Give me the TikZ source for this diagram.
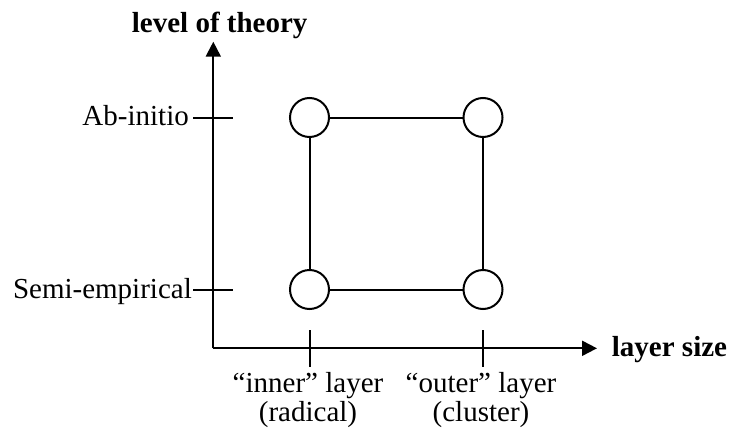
\documentclass[tikz,border=0pt]{standalone}
\usepackage{fontspec}
\setmainfont{Liberation Serif}
\usetikzlibrary{arrows.meta}
\begin{document}
\begin{tikzpicture}[x=1pt,y=-1pt,
  lw/.style={line width=2pt},
  dot/.style={circle,draw,line width=2pt,minimum size=39pt,inner sep=0pt},
  lbl/.style={inner sep=0pt,font=\fontsize{29}{34}\selectfont},
  blbl/.style={inner sep=0pt,font=\fontsize{29}{34}\selectfont\bfseries},
  axis/.style={line width=2pt,-{Triangle[length=15pt,width=15pt]}}]
\useasboundingbox (0,0) rectangle (730,428);
% axes
\coordinate (O) at (213.3,348.3);
\coordinate (Ytop) at (213.3,41.7);
\coordinate (Xend) at (597,348.3);
\draw[axis] (O) -- (Ytop);
\draw[axis] (O) -- (Xend);
% axis titles
\node[blbl,anchor=base west] (ylab) at (131.7,33) {level of theory};
\node[blbl,anchor=base west] (xlab) at (611.7,356) {layer size};
% y ticks and labels
\node[lbl,anchor=base east] (ab) at (189,125.5) {Ab-initio};
\node[lbl,anchor=base east] (se) at (192,298) {Semi-empirical};
\coordinate (t1a) at (193,117.5); \coordinate (t1b) at (233,117.5);
\coordinate (t2a) at (193,289.5); \coordinate (t2b) at (233,289.5);
\draw[lw] (t1a) -- (t1b);
\draw[lw] (t2a) -- (t2b);
% x ticks and labels
\coordinate (x1a) at (310,330); \coordinate (x1b) at (310,367);
\coordinate (x2a) at (483,330); \coordinate (x2b) at (483,367);
\draw[lw] (x1a) -- (x1b);
\draw[lw] (x2a) -- (x2b);
\node[lbl,anchor=base] (in1) at (308,392.5) {“inner” layer};
\node[lbl,anchor=base] (in2) at (308,421) {(radical)};
\node[lbl,anchor=base] (out1) at (481,392.5) {“outer” layer};
\node[lbl,anchor=base] (out2) at (481,421) {(cluster)};
% circles
\node[dot] (a) at (309.5,117.5) {};
\node[dot] (b) at (483,117.5) {};
\node[dot] (c) at (309.5,289.5) {};
\node[dot] (d) at (483,289.5) {};
\draw[lw] (a) -- (b);
\draw[lw] (c) -- (d);
\draw[lw] (a) -- (c);
\draw[lw] (b) -- (d);
\end{tikzpicture}
\end{document}
